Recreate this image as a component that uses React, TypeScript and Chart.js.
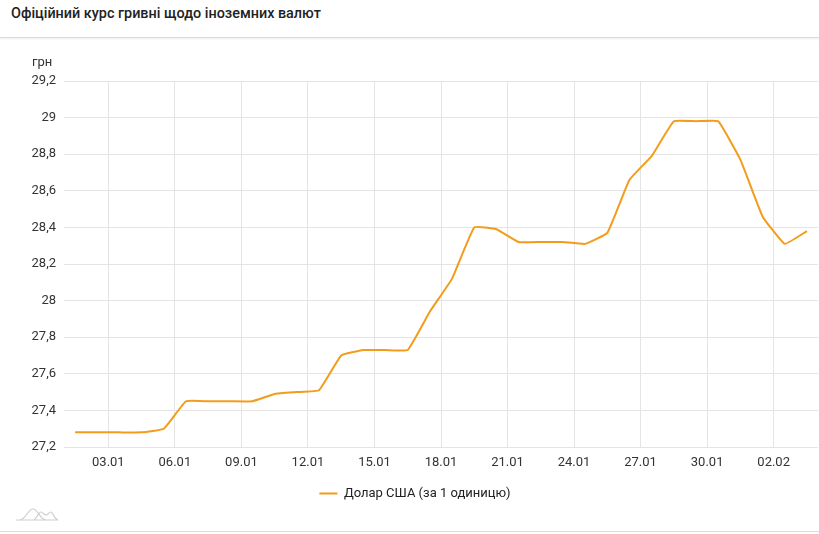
import React, { useEffect, useRef } from "react";
import { Chart, registerables } from "chart.js";

Chart.register(...registerables);

const TITLE = "Офіційний курс гривні щодо іноземних валют";
const SERIES_LABEL = "Долар США (за 1 одиницю)";
const UNIT = "грн";

const dates = [
  "01.01", "02.01", "03.01", "04.01", "05.01", "06.01", "07.01", "08.01", "09.01", "10.01",
  "11.01", "12.01", "13.01", "14.01", "15.01", "16.01", "17.01", "18.01", "19.01", "20.01",
  "21.01", "22.01", "23.01", "24.01", "25.01", "26.01", "27.01", "28.01", "29.01", "30.01",
  "31.01", "01.02", "02.02", "03.02",
];

const usdRates = [
  27.28, 27.28, 27.28, 27.28, 27.30, 27.45, 27.45, 27.45, 27.45, 27.49,
  27.50, 27.51, 27.70, 27.73, 27.73, 27.73, 27.94, 28.12, 28.40, 28.39,
  28.32, 28.32, 28.32, 28.31, 28.37, 28.66, 28.79, 28.98, 28.98, 28.98,
  28.77, 28.46, 28.31, 28.38,
];

// indices of dates shown as tick labels (every third day)
const tickDateIndices = [2, 5, 8, 11, 14, 17, 20, 23, 26, 29, 32];

const yMin = 27.2;
const yMax = 29.2;
const yStep = 0.2;

const LINE_COLOR = "#f39c1b";
const GRID_COLOR = "#e4e4e4";
const TEXT_COLOR = "#333333";
const FONT = "Roboto";

export default function App() {
  const canvasRef = useRef<HTMLCanvasElement | null>(null);

  useEffect(() => {
    document.body.style.margin = "0";
    const canvas = canvasRef.current;
    if (!canvas) return;

    const unitPlugin = {
      id: "unitLabel",
      afterLayout(chart: any) {
        if (chart.legend) {
          chart.legend.left += 6;
          chart.legend.right += 6;
        }
      },
      afterDraw(chart: any) {
        const ctx = chart.ctx;
        ctx.save();
        ctx.font = `13px ${FONT}`;
        ctx.fillStyle = TEXT_COLOR;
        ctx.textAlign = "left";
        ctx.textBaseline = "middle";
        ctx.fillText(UNIT, 32, chart.chartArea.top - 18);
        ctx.restore();
      },
    };

    const chart = new Chart(canvas, {
      type: "line",
      data: {
        datasets: [
          {
            label: SERIES_LABEL,
            data: usdRates.map((v, i) => ({ x: i + 0.5, y: v })),
            borderColor: LINE_COLOR,
            backgroundColor: LINE_COLOR,
            borderWidth: 2,
            pointRadius: 0,
            pointHoverRadius: 0,
            tension: 0.1,
            fill: false,
          },
        ],
      },
      options: {
        animation: false,
        responsive: false,
        maintainAspectRatio: false,
        layout: { padding: { top: 41, right: 1, left: 0, bottom: 0 } },
        plugins: {
          legend: {
            position: "bottom",
            labels: {
              boxWidth: 18,
              boxHeight: 2,
              padding: 10,
              color: "#222",
              font: { family: FONT, size: 13 },
              generateLabels(chart: any) {
                const items = Chart.defaults.plugins.legend.labels.generateLabels(chart);
                return items.map((it: any) => ({ ...it, lineWidth: 0 }));
              },
            },
          },
          tooltip: { enabled: false },
          title: { display: false },
        },
        scales: {
          x: {
            type: "linear",
            min: 0,
            max: dates.length,
            grid: { color: GRID_COLOR, drawTicks: false },
            border: { display: false },
            afterBuildTicks(scale: any) {
              scale.ticks = tickDateIndices.map((i) => ({ value: i }));
            },
            afterFit(scale: any) {
              scale.height = 30;
            },
            ticks: {
              padding: 8,
              maxRotation: 0,
              autoSkip: false,
              color: TEXT_COLOR,
              font: { family: FONT, size: 13 },
              callback: (v: any) => dates[Math.round(Number(v))] ?? "",
            },
          },
          y: {
            min: yMin,
            max: yMax,
            afterFit(scale: any) {
              scale.width = 64;
            },
            grid: { color: GRID_COLOR, drawTicks: false },
            border: { display: false },
            ticks: {
              stepSize: yStep,
              padding: 8,
              color: TEXT_COLOR,
              font: { family: FONT, size: 13 },
              callback: (v: any) =>
                String(Number(Number(v).toFixed(1))).replace(".", ","),
            },
          },
        },
      },
      plugins: [unitPlugin],
    } as any);

    return () => chart.destroy();
  }, []);

  return (
    <div
      style={{
        position: "absolute",
        left: 0,
        top: 0,
        width: 819,
        height: 534,
        background: "#fff",
        fontFamily: FONT,
        overflow: "hidden",
      }}
    >
      <div
        style={{
          position: "absolute",
          left: 0,
          top: 0,
          width: 819,
          height: 37,
          borderBottom: "1px solid #dcdcdc",
          boxShadow: "0 1px 2px rgba(0,0,0,0.08)",
        }}
      >
        <div
          style={{
            position: "absolute",
            left: 11,
            top: 5,
            fontSize: 14.4,
            fontWeight: 500,
            color: "#222",
            lineHeight: "18px",
            whiteSpace: "nowrap",
          }}
        >
          {TITLE}
        </div>
      </div>
      <canvas
        ref={canvasRef}
        width={819}
        height={470}
        style={{ position: "absolute", left: 0, top: 40, width: 819, height: 470 }}
      />
      <svg
        style={{ position: "absolute", left: 14, top: 506 }}
        width={46}
        height={16}
        viewBox="0 0 46 16"
      >
        <path d="M2 14 H44" stroke="#cfcfcf" strokeWidth={1.2} fill="none" />
        <path d="M6 14 C12 13 14 3 19 3 C24 3 26 14 32 14" stroke="#cfcfcf" strokeWidth={1.2} fill="none" />
        <path d="M20 14 C23 13 24 6 27 6 C29 6 30 9 32 9 C34 9 35 6 37 6 C39 6 40 13 44 14" stroke="#cfcfcf" strokeWidth={1.2} fill="none" />
      </svg>
      <div
        style={{
          position: "absolute",
          left: 0,
          top: 531,
          width: 819,
          height: 1,
          background: "#dcdcdc",
        }}
      />
    </div>
  );
}
